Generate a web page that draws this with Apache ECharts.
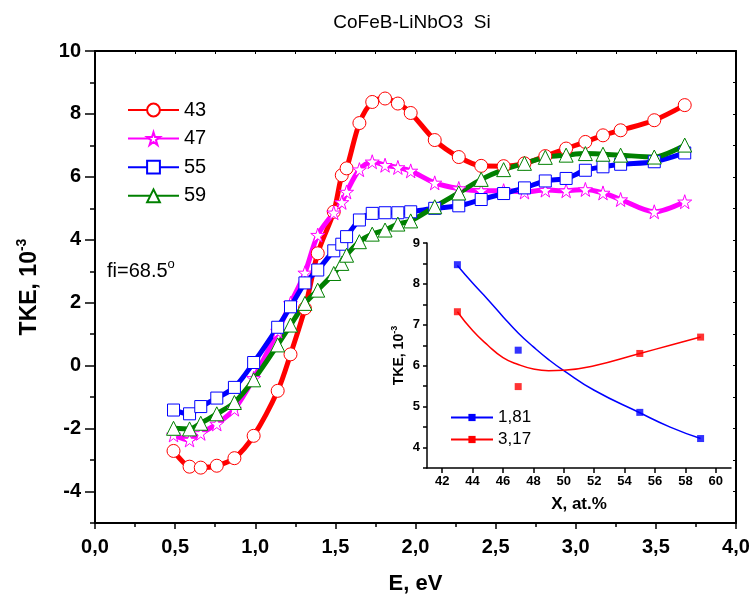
<!DOCTYPE html>
<html><head><meta charset="utf-8">
<script src="https://cdn.jsdelivr.net/npm/echarts@6/dist/echarts.min.js"></script>
<style>html,body{margin:0;padding:0;background:#fff}#c{width:755px;height:600px}</style>
</head><body><div id="c"></div>
<script>
// ---- main chart data (E in eV, TKE in 10^-3) ----
const energy = [0.49,0.59,0.66,0.76,0.87,0.99,1.14,1.22,1.31,1.39,1.49,1.54,1.57,1.65,1.73,1.81,1.89,1.97,2.12,2.27,2.41,2.55,2.68,2.81,2.94,3.06,3.17,3.28,3.49,3.68];
const tke43 = [-2.71,-3.21,-3.24,-3.18,-2.94,-2.23,-0.80,0.36,1.82,3.57,4.89,6.05,6.27,7.71,8.38,8.49,8.33,8.03,7.17,6.63,6.35,6.34,6.43,6.66,6.90,7.11,7.32,7.48,7.80,8.28];
const tke47 = [-2.20,-2.36,-2.15,-1.85,-1.38,-0.40,1.10,1.98,2.95,4.15,4.86,5.19,5.52,6.23,6.48,6.37,6.30,6.19,5.81,5.63,5.56,5.56,5.52,5.58,5.56,5.60,5.49,5.28,4.89,5.21];
const tke55 = [-1.41,-1.53,-1.30,-1.03,-0.69,0.10,1.22,1.87,2.63,3.04,3.65,3.86,4.10,4.63,4.84,4.86,4.86,4.89,5.00,5.08,5.28,5.47,5.65,5.87,5.95,6.21,6.32,6.40,6.48,6.76];
const tke59 = [-1.99,-2.01,-1.83,-1.53,-1.17,-0.45,0.66,1.29,1.98,2.40,2.93,3.25,3.51,3.94,4.18,4.31,4.50,4.60,5.05,5.49,5.92,6.23,6.43,6.62,6.69,6.74,6.72,6.69,6.63,7.01];
const seriesNames = ['43','47','55','59'];
const yTicks = [-4,-2,0,2,4,6,8,10];
const yMinorTicks = [-5,-3,-1,1,3,5,7,9];

// ---- inset data (X in at.%, TKE in 10^-3) ----
const insetX = [43,47,55,59];
const inset181 = [8.47,6.38,4.86,4.22];
const inset317 = [7.32,5.49,6.30,6.70];
const fitX = [43,44,45,46,47,48,49,50,52,55,57,59];
const fit181 = [8.45,8.02,7.62,7.20,6.80,6.46,6.15,5.88,5.40,4.85,4.50,4.22];
const fit317 = [7.32,6.86,6.50,6.20,6.03,5.92,5.88,5.89,6.00,6.30,6.50,6.70];
const insetNames = ['1,81','3,17'];
const insetXTicks = [42,44,46,48,50,52,54,56,58,60];
const insetYTicks = [4,5,6,7,8,9];
const insetYMinor = [3.5,4,4.5,5,5.5,6,6.5,7,7.5,8,8.5,9];

const FONT = '"Liberation Sans", Arial, sans-serif';
const STAR = 'path://M50,0 L61.8,36.2 L100,36.2 L69.1,58.8 L80.9,95.1 L50,72.6 L19.1,95.1 L30.9,58.8 L0,36.2 L38.2,36.2 Z';
const pair = (xs, ys) => xs.map((x, i) => [x, ys[i]]);
const lbl = v => (+v).toFixed(1).replace('.', ',');

function mainSeries(name, ys, color, symbol, size) {
  return {
    type: 'line', name, xAxisIndex: 0, yAxisIndex: 0,
    data: pair(energy, ys), smooth: 0.3, symbol, symbolSize: size, showAllSymbol: true,
    lineStyle: { color, width: 5 },
    itemStyle: { color: '#fff', borderColor: color, borderWidth: 1 },
    emphasis: { disabled: true }
  };
}

const axisBlack = { onZero: false, lineStyle: { color: '#000', width: 2 } };
const axisThin = { onZero: false, lineStyle: { color: '#000', width: 1.5 } };
const option = {
  animation: false,
  backgroundColor: '#fff',
  title: { text: 'CoFeB-LiNbO3  Si', left: 407, top: 8, textAlign: 'center',
    textStyle: { fontFamily: FONT, fontSize: 19, fontWeight: 'normal', color: '#000' } },
  grid: [
    { left: 95, top: 51, width: 641, height: 472 },
    { left: 427, top: 243, width: 304, height: 225 }
  ],
  legend: [
    { data: seriesNames, orient: 'vertical', left: 122, top: 95, itemWidth: 51, itemHeight: 16, itemGap: 8.6,
      textStyle: { fontFamily: FONT, fontSize: 20, color: '#000' }, selectedMode: false },
    { data: insetNames, orient: 'vertical', left: 445, top: 404, itemWidth: 42, itemHeight: 9, itemGap: 5,
      textStyle: { fontFamily: FONT, fontSize: 17, color: '#000' }, selectedMode: false }
  ],
  xAxis: [
    { gridIndex: 0, type: 'value', position: 'bottom', min: 0, max: 4, interval: 0.5,
      axisLine: axisBlack, axisTick: { length: 6, lineStyle: { color: '#000', width: 1.5 } },
      minorTick: { show: true, splitNumber: 2, length: 4, lineStyle: { color: '#000', width: 1.5 } },
      splitLine: { show: false },
      axisLabel: { fontFamily: FONT, fontSize: 20, fontWeight: 'bold', color: '#000', margin: 14, formatter: lbl },
      name: 'E, eV', nameLocation: 'middle', nameGap: 50,
      nameTextStyle: { fontFamily: FONT, fontSize: 22, fontWeight: 'bold', color: '#000' } },
    { gridIndex: 0, type: 'value', position: 'top', min: 0, max: 4, interval: 0.25,
      axisLine: axisBlack, axisTick: { inside: true, length: 3, lineStyle: { color: '#000', width: 1 } },
      axisLabel: { show: false }, splitLine: { show: false } },
    { gridIndex: 1, type: 'value', position: 'bottom', min: 41, max: 61,
      axisLine: axisThin,
      axisTick: { customValues: insetXTicks, length: 5, lineStyle: { color: '#000', width: 1.5 } },
      axisLabel: { customValues: insetXTicks, fontFamily: FONT, fontSize: 13, fontWeight: 'bold', color: '#000', margin: 7 },
      splitLine: { show: false },
      name: 'X, at.%', nameLocation: 'middle', nameGap: 28,
      nameTextStyle: { fontFamily: FONT, fontSize: 17, fontWeight: 'bold', color: '#000' } }
  ],
  yAxis: [
    { gridIndex: 0, type: 'value', position: 'left', min: -5, max: 10,
      axisLine: axisBlack,
      axisTick: { customValues: yTicks, length: 10, lineStyle: { color: '#000', width: 1.5 } },
      axisLabel: { customValues: yTicks, fontFamily: FONT, fontSize: 20, fontWeight: 'bold', color: '#000', margin: 14 },
      splitLine: { show: false },
      name: '{b|TKE, 10}{s|-3}', nameLocation: 'middle', nameRotate: 90, nameGap: 50,
      nameTextStyle: { rich: {
        b: { fontFamily: FONT, fontSize: 23, fontWeight: 'bold', color: '#000', lineHeight: 30 },
        s: { fontFamily: FONT, fontSize: 14, fontWeight: 'bold', color: '#000', verticalAlign: 'top' } } } },
    { gridIndex: 0, type: 'value', position: 'left', min: -5, max: 10,
      axisLine: { show: false, onZero: false },
      axisTick: { customValues: yMinorTicks, length: 5, lineStyle: { color: '#000', width: 1.5 } },
      axisLabel: { show: false }, splitLine: { show: false } },
    { gridIndex: 0, type: 'value', position: 'right', min: -5, max: 10, interval: 1,
      axisLine: axisBlack, axisTick: { inside: true, length: 3, lineStyle: { color: '#000', width: 1 } },
      axisLabel: { show: false }, splitLine: { show: false } },
    { gridIndex: 1, type: 'value', position: 'left', min: 3.5, max: 9,
      axisLine: axisThin,
      axisTick: { customValues: insetYMinor, length: 4, lineStyle: { color: '#000', width: 1.5 } },
      axisLabel: { customValues: insetYTicks, fontFamily: FONT, fontSize: 13, fontWeight: 'bold', color: '#000', margin: 7 },
      splitLine: { show: false },
      name: '{b|TKE, 10}{s|-3}', nameLocation: 'middle', nameRotate: 90, nameGap: 19,
      nameTextStyle: { rich: {
        b: { fontFamily: FONT, fontSize: 14, fontWeight: 'bold', color: '#000', lineHeight: 18 },
        s: { fontFamily: FONT, fontSize: 9, fontWeight: 'bold', color: '#000', verticalAlign: 'top' } } } }
  ],
  graphic: [
    { type: 'text', left: 107, top: 258, style: {
      text: '{a|fi=68.5}{s|o}',
      rich: { a: { fontFamily: FONT, fontSize: 20, fill: '#000', lineHeight: 26 },
              s: { fontFamily: FONT, fontSize: 13, fill: '#000', verticalAlign: 'top' } } } }
  ],
  series: [
    mainSeries('43', tke43, '#ff0000', 'circle', 13),
    mainSeries('47', tke47, '#ff00ff', STAR, 14),
    mainSeries('55', tke55, '#0000ff', 'rect', 12),
    mainSeries('59', tke59, '#008000', 'triangle', 14),
    { type: 'line', name: '1,81', xAxisIndex: 2, yAxisIndex: 3, data: pair(fitX, fit181), smooth: true,
      symbol: 'rect', symbolSize: 7, showSymbol: false, lineStyle: { color: '#0000ff', width: 1.5 },
      itemStyle: { color: '#0000ff' }, emphasis: { disabled: true } },
    { type: 'line', name: '3,17', xAxisIndex: 2, yAxisIndex: 3, data: pair(fitX, fit317), smooth: true,
      symbol: 'rect', symbolSize: 7, showSymbol: false, lineStyle: { color: '#ff0000', width: 1.5 },
      itemStyle: { color: '#ff0000' }, emphasis: { disabled: true } },
    { type: 'scatter', name: '1,81 pts', xAxisIndex: 2, yAxisIndex: 3, data: pair(insetX, inset181),
      symbol: 'rect', symbolSize: 7, itemStyle: { color: '#0000ff' }, emphasis: { disabled: true } },
    { type: 'scatter', name: '3,17 pts', xAxisIndex: 2, yAxisIndex: 3, data: pair(insetX, inset317),
      symbol: 'rect', symbolSize: 7, itemStyle: { color: '#ff0000' }, emphasis: { disabled: true } }
  ]
};
const chart = echarts.init(document.getElementById('c'), null, { renderer: 'canvas' });
chart.setOption(option);
</script>
</body></html>
